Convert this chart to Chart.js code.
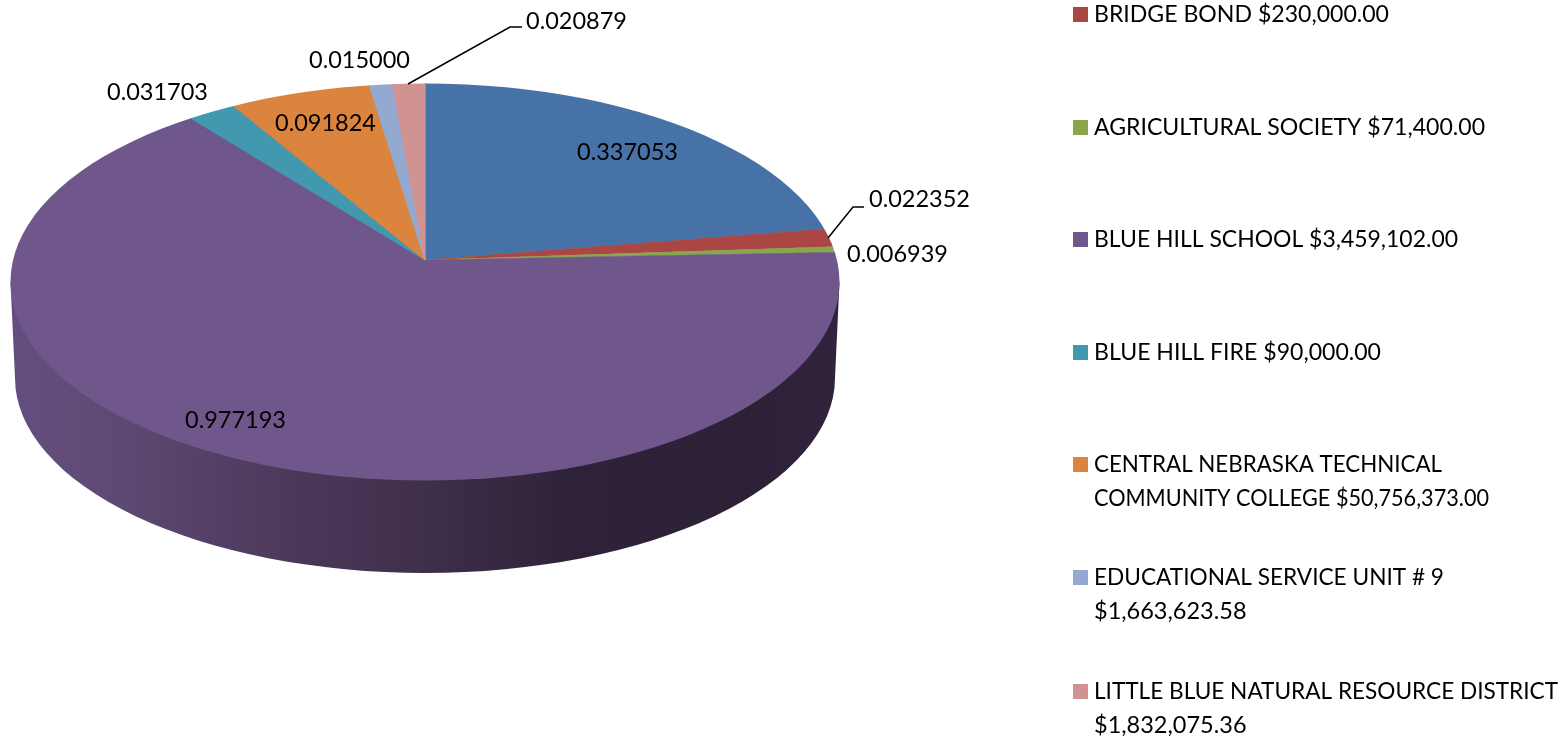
<!DOCTYPE html>
<html>
<head>
<meta charset="utf-8">
<style>
  html, body { margin: 0; padding: 0; background: #fff; }
  canvas { display: block; }
</style>
<script src="https://cdn.jsdelivr.net/npm/chart.js@4/dist/chart.umd.min.js"></script>
</head>
<body>
<canvas id="pie" width="1564" height="736"></canvas>
<script>
// values as printed on the slices, first slice has its legend entry cut off in the source
const sliceValues = [0.337053, 0.022352, 0.006939, 0.977193, 0.031703, 0.091824, 0.015, 0.020879];
const sliceLabels = ["0.337053", "0.022352", "0.006939", "0.977193", "0.031703", "0.091824", "0.015000", "0.020879"];
const sliceColors = ["#4672a7", "#aa4643", "#89a54e", "#6f568b", "#4198af", "#db843d", "#93a9cf", "#d19392"];
const legendLines = [
  null,
  ["BRIDGE BOND $230,000.00"],
  ["AGRICULTURAL SOCIETY $71,400.00"],
  ["BLUE HILL SCHOOL $3,459,102.00"],
  ["BLUE HILL FIRE $90,000.00"],
  ["CENTRAL NEBRASKA TECHNICAL", "COMMUNITY COLLEGE $50,756,373.00"],
  ["EDUCATIONAL SERVICE UNIT # 9", "$1,663,623.58"],
  ["LITTLE BLUE NATURAL RESOURCE DISTRICT", "$1,832,075.36"],
];

// layout of the fake 3d disc
const apex = { x: 425, y: 260 };
const face = { x: 425, y: 282, rx: 414.5, ry: 198.5 };
const foot = { x: 425, y: 378, rx: 410, ry: 195 };
const squash = 0.476;
const coverRadius = 480;

const labelPos = [[577, 152], [869, 199], [847, 254], [185, 420], [107, 92], [275, 123], [309, 60], [526, 21]];
const leaders = [
  [[828, 238], [853, 207], [864, 207]],
  [[408, 84], [510, 27], [522, 27]],
];
const legendY = [0, 14, 127, 239, 352, 464, 577, 691];
// Lato runs wider than the original font on capitals, so each line gets squeezed to its measured width
const legendWidths = [null, [295], [391], [364], [287], [348, 395], [350, 155], [464, 155]];
const font = '23.5px Lato, "Open Sans", sans-serif';

const discPlugin = {
  id: "disc",
  beforeDatasetDraw(chart, args) {
    const ctx = chart.ctx;
    const arcs = args.meta.data;

    // side wall
    const wall = ctx.createLinearGradient(face.x - face.rx, 0, face.x + face.rx, 0);
    wall.addColorStop(0, "#644e80");
    wall.addColorStop(0.12, "#5f4a74");
    wall.addColorStop(0.3, "#4f3b5e");
    wall.addColorStop(0.5, "#3e2f4b");
    wall.addColorStop(0.68, "#2e2238");
    wall.addColorStop(0.9, "#2c2137");
    wall.addColorStop(1, "#30243d");
    ctx.save();
    ctx.fillStyle = wall;
    ctx.beginPath();
    ctx.moveTo(face.x + face.rx, face.y);
    ctx.lineTo(foot.x + foot.rx, foot.y);
    ctx.ellipse(foot.x, foot.y, foot.rx, foot.ry, 0, 0, Math.PI);
    ctx.lineTo(face.x - face.rx, face.y);
    ctx.closePath();
    ctx.fill();
    ctx.restore();

    // top face: the library's arcs, squashed around the apex and clipped to the rim
    const first = arcs[0];
    const s = coverRadius / first.outerRadius;
    ctx.save();
    ctx.beginPath();
    ctx.ellipse(face.x, face.y, face.rx, face.ry, 0, 0, Math.PI * 2);
    ctx.clip();
    ctx.translate(apex.x, apex.y);
    ctx.scale(s, s * squash);
    ctx.translate(-first.x, -first.y);
    arcs.forEach((arc) => arc.draw(ctx));
    ctx.restore();
    return false;
  },
  afterDraw(chart) {
    const ctx = chart.ctx;
    ctx.save();

    ctx.strokeStyle = "#000";
    ctx.lineWidth = 1.5;
    leaders.forEach((pts) => {
      ctx.beginPath();
      pts.forEach((p, i) => (i ? ctx.lineTo(p[0], p[1]) : ctx.moveTo(p[0], p[1])));
      ctx.stroke();
    });

    ctx.font = font;
    ctx.fillStyle = "#000";
    ctx.textBaseline = "middle";
    ctx.textAlign = "left";
    sliceLabels.forEach((txt, i) => ctx.fillText(txt, labelPos[i][0], labelPos[i][1]));

    legendLines.forEach((lines, i) => {
      if (!lines) return;
      ctx.fillStyle = sliceColors[i];
      ctx.fillRect(1073, legendY[i] - 7, 15, 15);
      ctx.fillStyle = "#000";
      lines.forEach((txt, j) => ctx.fillText(txt, 1094, legendY[i] + j * 34, legendWidths[i][j]));
    });
    ctx.restore();
  },
};

new Chart(document.getElementById("pie"), {
  type: "pie",
  data: {
    labels: sliceLabels,
    datasets: [{ data: sliceValues, backgroundColor: sliceColors, borderColor: sliceColors, borderWidth: 1 }],
  },
  options: {
    responsive: false,
    animation: false,
    events: [],
    plugins: { legend: { display: false }, tooltip: { enabled: false } },
  },
  plugins: [discPlugin],
});
</script>
</body>
</html>
